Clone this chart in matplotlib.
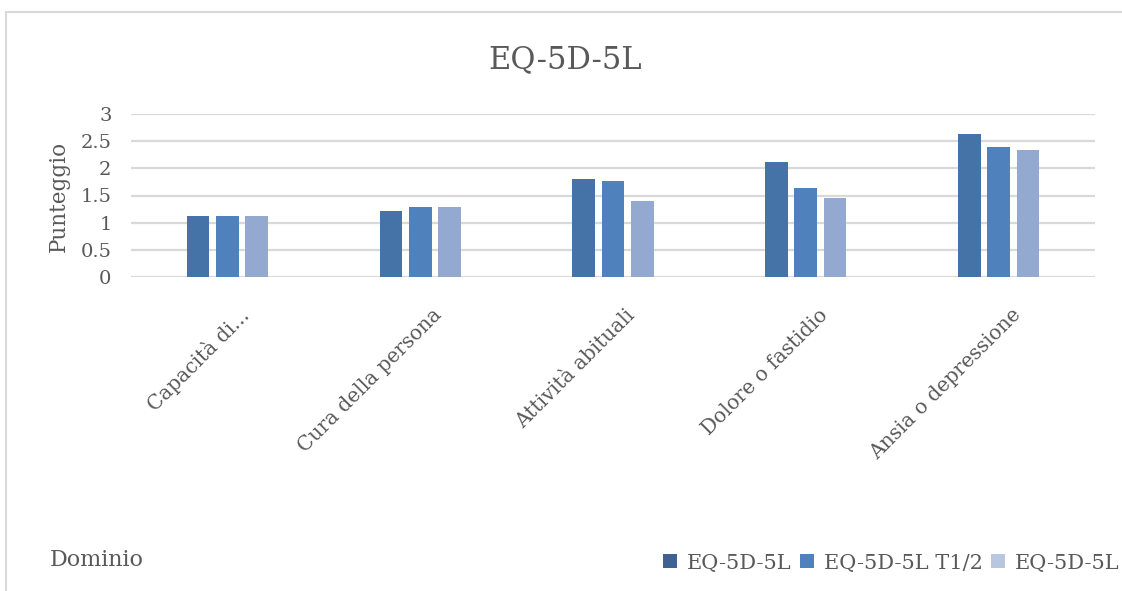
import numpy as np
import matplotlib
matplotlib.use("Agg")
import matplotlib.pyplot as plt
from matplotlib.patches import Patch, Rectangle
from matplotlib.transforms import ScaledTranslation

# EQ-5D-5L domain scores
domini = ["Capacità di...", "Cura della persona", "Attività abituali",
          "Dolore o fastidio", "Ansia o depressione"]
serie_nomi = ["EQ-5D-5L", "EQ-5D-5L T1/2", "EQ-5D-5L"]
eq_t0 = [1.12, 1.22, 1.81, 2.11, 2.64]
eq_t12 = [1.12, 1.29, 1.76, 1.64, 2.40]
eq_t1 = [1.12, 1.29, 1.40, 1.46, 2.34]
yticks = [0, 0.5, 1, 1.5, 2, 2.5, 3]
ytick_labels = ["0", "0.5", "1", "1.5", "2", "2.5", "3"]

bar_colors = ["#4572a7", "#4f81bd", "#93a9cf"]
legend_colors = ["#3d6293", "#4f81bd", "#b8c7df"]
text_col = "#595959"
grid_col = "#d9d9d9"

plt.rcParams["font.family"] = ["DejaVu Serif"]

fig = plt.figure(figsize=(11.22, 5.91), dpi=100)
ax = fig.add_axes([131 / 1122, 1 - 277 / 591, (1095 - 131) / 1122, (277 - 114) / 591])

# light frame around the chart area
fig.patches.append(Rectangle((6 / 1122, -0.05), 1.1, 1.05 - 12 / 591,
                             transform=fig.transFigure, fill=False,
                             edgecolor="#d9d9d9", linewidth=1.5))

x = np.arange(len(domini))
step = 0.152
width = 0.118
for i, vals in enumerate([eq_t0, eq_t12, eq_t1]):
    ax.bar(x + (i - 1) * step, vals, width, color=bar_colors[i], zorder=3)

ax.set_xlim(-0.5, len(domini) - 0.5)
ax.set_ylim(0, 3)
ax.set_yticks(yticks)
ax.set_yticklabels(ytick_labels)
ax.yaxis.grid(True, color=grid_col, linewidth=1.6, zorder=0)
for s in ax.spines.values():
    s.set_visible(False)
ax.tick_params(axis="both", length=0, colors=text_col)
ax.tick_params(axis="y", labelsize=14, pad=14)

ax.set_xticks(x)
ax.set_xticklabels(domini, rotation=45, ha="right", va="center",
                   rotation_mode="anchor", fontsize=14.5, color=text_col)
ax.tick_params(axis="x", pad=0)
shift = ScaledTranslation(0.19, -0.35, fig.dpi_scale_trans)
for lab in ax.get_xticklabels():
    lab.set_transform(lab.get_transform() + shift)

fig.text(0.5036, 1 - 60 / 591, "EQ-5D-5L", ha="center", va="center",
         fontsize=22, color=text_col)
fig.text(59 / 1122, 1 - 196 / 591, "Punteggio", rotation=90, ha="center",
         va="center", fontsize=15.5, color=text_col)
fig.text(50 / 1122, 1 - 560 / 591, "Dominio", ha="left", va="center",
         fontsize=16, color=text_col)

handles = [Patch(facecolor=c, edgecolor="none") for c in legend_colors]
leg = fig.legend(handles, serie_nomi, loc="center right",
                 bbox_to_anchor=(0.998, 1 - 563 / 591), ncol=3, frameon=False,
                 fontsize=15, handlelength=0.65, handleheight=0.65,
                 handletextpad=0.5, columnspacing=0.4, borderpad=0,
                 borderaxespad=0)
for t in leg.get_texts():
    t.set_color(text_col)

fig.savefig("out.png", dpi=100, facecolor="white")
